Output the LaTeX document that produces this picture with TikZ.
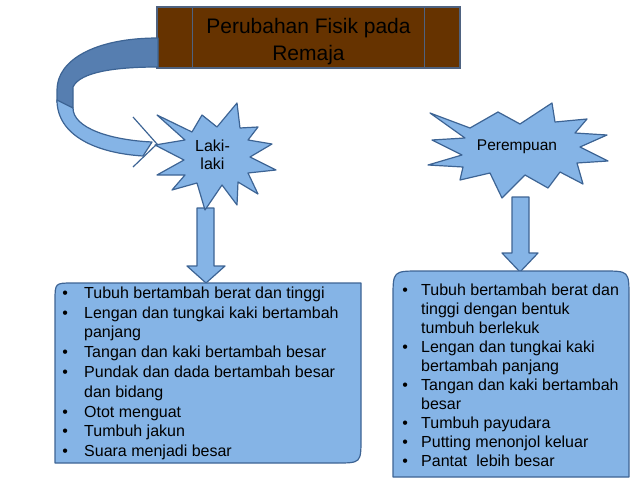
\documentclass[tikz,border=0pt]{standalone}
\usepackage{fontspec}
\setmainfont{Liberation Sans}
\definecolor{lightblue}{RGB}{133,180,230}
\definecolor{edgeblue}{RGB}{61,100,148}
\definecolor{darkblue}{RGB}{86,126,176}
\definecolor{titlebrown}{RGB}{102,51,0}
\definecolor{titleedge}{RGB}{78,98,128}
\newlength{\itmw}
\newcommand{\itm}{\makebox[\itmw][l]{\textbullet}}
\newcommand{\ind}{\hspace*{\itmw}}
\tikzset{
  bluefill/.style={fill=lightblue, draw=edgeblue, line width=1.2pt, line join=round},
  darkfill/.style={fill=darkblue, draw=edgeblue, line width=1.2pt, line join=round},
  titlebox/.style={fill=titlebrown, draw=titleedge, line width=1.2pt, minimum width=303pt, minimum height=61pt, inner sep=0pt},
  titletext/.style={align=center, inner sep=0pt, font=\fontsize{21}{27}\selectfont},
  startext/.style={align=center, inner sep=0pt},
  listtext/.style={align=left, inner sep=0pt, anchor=north west, font=\fontsize{16}{19.8}\selectfont}
}
\begin{document}
\begin{tikzpicture}[x=1pt, y=-1pt]
\useasboundingbox (0,0) rectangle (638,479);
\node[titlebox] (titlebox) at (308.5,37.5) {};
\draw[titleedge, line width=1.2pt] ([xshift=36pt]titlebox.north west) -- ([xshift=36pt]titlebox.south west);
\draw[titleedge, line width=1.2pt] ([xshift=-36pt]titlebox.north east) -- ([xshift=-36pt]titlebox.south east);
\node[titletext] (title) at (308.5,42) {Perubahan Fisik pada\\Remaja};
\draw[darkfill] (158,38) .. controls (95,38) and (57,60) .. (57,90) -- (57,102) -- (73,108) -- (73,87) .. controls (80,72) and (115,67) .. (158,67) -- cycle;
\draw[bluefill] (57,100) .. controls (57,135) and (95,153) .. (143,156) -- (152,142) .. controls (110,140) and (73,128) .. (73,108) -- cycle;
\draw[edgeblue, line width=1.2pt] (133,117) -- (157,144) -- (133,167);
\draw[bluefill] (197,208) -- (214,208) -- (214,266) -- (225,266) -- (206,283) -- (187,266) -- (197,266) -- cycle;
\draw[bluefill] (512,197) -- (529,197) -- (529,253) -- (538,253) -- (520,272) -- (502,253) -- (512,253) -- cycle;
\draw[bluefill] (237,103) -- (240,128) -- (258,127) -- (248,140) -- (272,144) -- (250,157) -- (276,170) -- (248,173) -- (258,194) -- (238,182) -- (237,205) -- (222,185) -- (205,210) -- (197,183) -- (172,190) -- (185,175) -- (157,175) -- (184,160) -- (155,145) -- (185,140) -- (157,115) -- (192,132) -- (202,115) -- (217,127) -- cycle;
\draw[bluefill] (430,113) -- (470,128) -- (498,112) -- (520,124) -- (552,103) -- (555,122) -- (587,119) -- (575,133) -- (607,135) -- (580,147) -- (608,161) -- (577,163) -- (583,184) -- (560,172) -- (548,188) -- (525,175) -- (502,198) -- (490,173) -- (460,180) -- (463,167) -- (428,165) -- (462,155) -- (432,140) -- (465,138) -- cycle;
\node[startext, font=\fontsize{16}{18}\selectfont] (lakilaki) at (212.5,155) {Laki-\\laki};
\node[startext, font=\fontsize{15.5}{18}\selectfont] (perempuan) at (517,147) {Perempuan};
\draw[bluefill] (55,463) -- (55,301) .. controls (55,283) .. (73,283) -- (361,283) -- (361,438) .. controls (361,463) .. (336,463) -- cycle;
\draw[bluefill] (393,477) -- (393,298) .. controls (393,271) .. (420,271) -- (603,271) .. controls (629,271) .. (629,297) -- (629,477) -- cycle;
\node[listtext, execute at begin node={\setlength{\itmw}{21.8pt}}] (lakilist) at (62.2,286.5) {\itm Tubuh bertambah berat dan tinggi\\
\itm Lengan dan tungkai kaki bertambah\\
\ind panjang\\
\itm Tangan dan kaki bertambah besar\\
\itm Pundak dan dada bertambah besar\\
\ind dan bidang\\
\itm Otot menguat\\
\itm Tumbuh jakun\\
\itm Suara menjadi besar};
\node[listtext, font=\fontsize{16}{19}\selectfont, execute at begin node={\setlength{\itmw}{18.8pt}}] (perempuanlist) at (402.2,283.5) {\itm Tubuh bertambah berat dan\\
\ind tinggi dengan bentuk\\
\ind tumbuh berlekuk\\
\itm Lengan dan tungkai kaki\\
\ind bertambah panjang\\
\itm Tangan dan kaki bertambah\\
\ind besar\\
\itm Tumbuh payudara\\
\itm Putting menonjol keluar\\
\itm Pantat~ lebih besar};
\end{tikzpicture}
\end{document}
